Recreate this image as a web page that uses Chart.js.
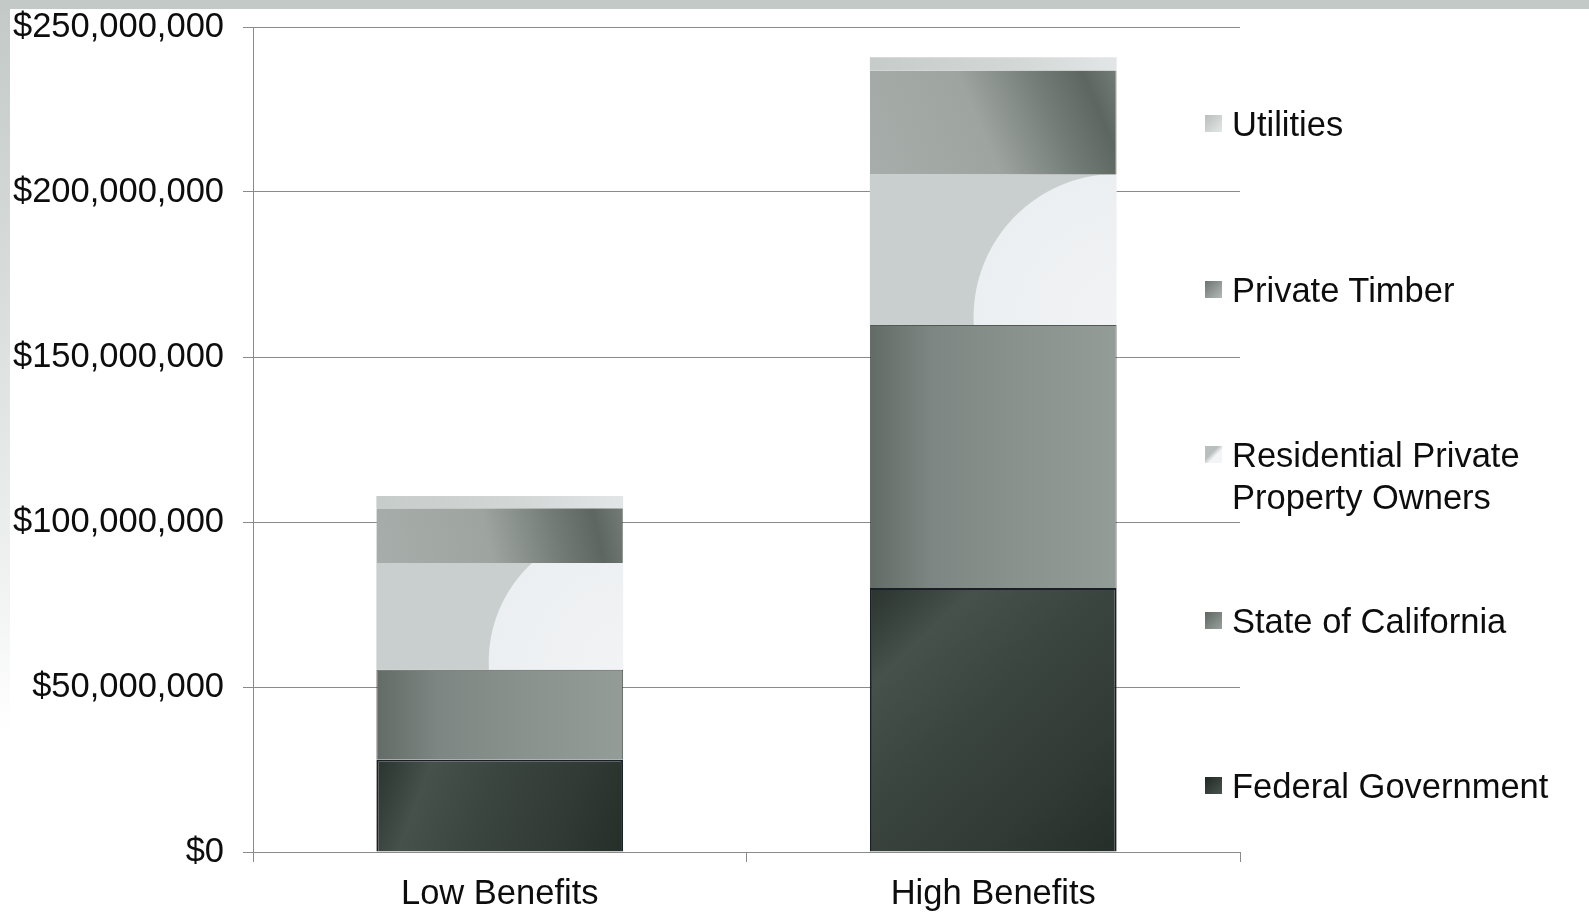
<!DOCTYPE html>
<html lang="en">
<head>
  <meta charset="UTF-8">
  <title>Benefits by beneficiary</title>
  <style>
    html, body {
      margin: 0;
      padding: 0;
    }
    body {
      width: 1589px;
      height: 915px;
      overflow: hidden;
      position: relative;
      font-family: "Liberation Sans", Arial, sans-serif;
      background:
        linear-gradient(#c3c9c7, #c3c9c7) top left / 100% 9px no-repeat,
        linear-gradient(to bottom, #c3c9c7, #e8ecea 55%, #ffffff 80%) top left / 10px 100% no-repeat,
        #ffffff;
    }
    canvas {
      position: absolute;
      left: 0;
      top: 0;
    }
    #legend {
      position: absolute;
      left: 1205px;
      top: 103px;
      margin: 0;
      padding: 0;
      list-style: none;
    }
    #legend li {
      height: 165.5px;
      display: flex;
      align-items: flex-start;
    }
    #legend .box {
      width: 17px;
      height: 17px;
      margin-top: 12px;
      margin-right: 10px;
      flex: none;
    }
    #legend .txt {
      font-size: 34.5px;
      line-height: 42px;
      color: #0d0d0d;
    }
  </style>
</head>
<body>
  <canvas id="chart" width="1589" height="915"></canvas>
  <ul id="legend"></ul>

  <script src="https://cdn.jsdelivr.net/npm/chart.js"></script>
  <script>
    // values in dollars
    const categories = ["Low Benefits", "High Benefits"];
    const federal = [28000000, 80000000];
    const stateCA = [27200000, 79700000];
    const residential = [32400000, 45500000];
    const timber = [16600000, 31600000];
    const utilities = [3700000, 4000000];
    const yTicks = [0, 50000000, 100000000, 150000000, 200000000, 250000000];

    const seriesNames = ["Federal Government", "State of California",
      ["Residential Private", "Property Owners"], "Private Timber", "Utilities"];

    const barShare = 0.5;

    // pixel box of one stacked segment, from the chart scales
    function segBox(c) {
      const chart = c.chart;
      const xs = chart.scales.x, ys = chart.scales.y;
      if (!xs || !ys) return null;
      const i = c.dataIndex, d = c.datasetIndex;
      let base = 0;
      for (let k = 0; k < d; k++) base += chart.data.datasets[k].data[i];
      const top = base + chart.data.datasets[d].data[i];
      const cx = xs.getPixelForValue(i);
      const half = xs.width / categories.length * barShare / 2;
      const b = {
        left: cx - half, right: cx + half,
        top: ys.getPixelForValue(top), bottom: ys.getPixelForValue(base)
      };
      if (![b.left, b.right, b.top, b.bottom].every(Number.isFinite) || b.right <= b.left) return null;
      return b;
    }

    function addStops(gr, stops) {
      stops.forEach(s => gr.addColorStop(s[0], s[1]));
      return gr;
    }

    const fills = {
      federal: (g, b) => addStops(g.createLinearGradient(b.left, b.top, b.right, b.bottom),
        [[0, "#2a332d"], [0.2, "#46514b"], [0.45, "#3b453f"], [0.75, "#313a34"], [1, "#262e29"]]),
      state: (g, b) => addStops(g.createLinearGradient(b.left, 0, b.right, 0),
        [[0, "#626b66"], [0.25, "#7d8682"], [0.6, "#8a928e"], [1, "#949c98"]]),
      residential: (g, b) => {
        const w = b.right - b.left, h = b.bottom - b.top;
        const r = 0.46 * w + 0.2 * h;
        const cy = b.bottom - 8;
        return addStops(g.createRadialGradient(b.right, cy, 0, b.right, cy, r),
          [[0, "#f1f3f5"], [0.993, "#eceff1"], [1, "#c9cfce"]]);
      },
      timber: (g, b) => addStops(g.createLinearGradient(b.left, b.bottom, b.right, b.top),
        [[0, "#a7adaa"], [0.45, "#9ea5a1"], [0.72, "#737b77"], [0.88, "#5e6662"], [1, "#747c78"]]),
      utilities: (g, b) => addStops(g.createLinearGradient(b.left, 0, b.right, 0),
        [[0, "#c6ccca"], [0.6, "#d3d8d7"], [1, "#e2e6e6"]])
    };

    function painter(name, flat) {
      return c => {
        if (c.type !== "data") return flat;
        const b = segBox(c);
        return b ? fills[name](c.chart.ctx, b) : flat;
      };
    }

    const flatColors = ["#353e38", "#7e8783", "#d6dbdb", "#8f9793", "#cdd2d1"];
    const swatchCss = [
      "linear-gradient(135deg, #202823, #4a544e)",
      "linear-gradient(135deg, #5d6661, #9aa19d)",
      "linear-gradient(135deg, #b9bfbe 40%, #f2f4f5 60%)",
      "linear-gradient(135deg, #6b7370, #b4bab7)",
      "linear-gradient(135deg, #b8bebc, #e4e7e7)"
    ];

    const tickFont = { family: "'Liberation Sans', Arial, sans-serif", size: 34.5, lineHeight: 1.2 };

    const ctx = document.getElementById("chart").getContext("2d");
    const chart = new Chart(ctx, {
      type: "bar",
      data: {
        labels: categories,
        datasets: [
          { label: "Federal Government", data: federal, backgroundColor: painter("federal", flatColors[0]),
            borderColor: "#1a2026", borderWidth: 2 },
          { label: "State of California", data: stateCA, backgroundColor: painter("state", flatColors[1]),
            borderColor: "rgba(40,48,44,0.8)", borderWidth: { top: 1, left: 1, right: 1 } },
          { label: "Residential Private Property Owners", data: residential, backgroundColor: painter("residential", flatColors[2]),
            borderWidth: 0 },
          { label: "Private Timber", data: timber, backgroundColor: painter("timber", flatColors[3]),
            borderColor: "rgba(60,68,64,0.6)", borderWidth: { right: 1 } },
          { label: "Utilities", data: utilities, backgroundColor: painter("utilities", flatColors[4]),
            borderWidth: 0 }
        ]
      },
      options: {
        responsive: false,
        animation: false,
        layout: { padding: { top: 27, right: 349, left: 0, bottom: 0 } },
        datasets: {
          bar: { categoryPercentage: 1, barPercentage: barShare, borderSkipped: "start" }
        },
        plugins: {
          legend: { display: false },
          tooltip: { enabled: false }
        },
        scales: {
          x: {
            stacked: true,
            grid: { drawOnChartArea: false, drawTicks: true, tickLength: 10, color: "#8a8a8a", offset: true },
            border: { color: "#8a8a8a" },
            ticks: { color: "#0d0d0d", padding: 12, font: tickFont },
            afterFit: s => { s.height = 63; }
          },
          y: {
            stacked: true,
            min: 0,
            max: yTicks[yTicks.length - 1],
            afterBuildTicks: s => { s.ticks = yTicks.map(v => ({ value: v })); },
            grid: { color: "#8a8a8a", tickLength: 10 },
            border: { color: "#8a8a8a" },
            ticks: {
              color: "#0d0d0d",
              padding: 19,
              font: tickFont,
              callback: v => "$" + Number(v).toLocaleString("en-US")
            },
            afterFit: s => {
              s.width = 253;
              s.paddingTop = 0;
              s.paddingBottom = 0;
            }
          }
        }
      }
    });

    // legend, top entry is the top segment
    const legend = document.getElementById("legend");
    for (let k = chart.data.datasets.length - 1; k >= 0; k--) {
      const li = document.createElement("li");
      const box = document.createElement("span");
      box.className = "box";
      box.style.background = swatchCss[k];
      const txt = document.createElement("span");
      txt.className = "txt";
      const name = seriesNames[k];
      txt.innerHTML = Array.isArray(name) ? name.join("<br>") : name;
      li.appendChild(box);
      li.appendChild(txt);
      legend.appendChild(li);
    }
  </script>
</body>
</html>
